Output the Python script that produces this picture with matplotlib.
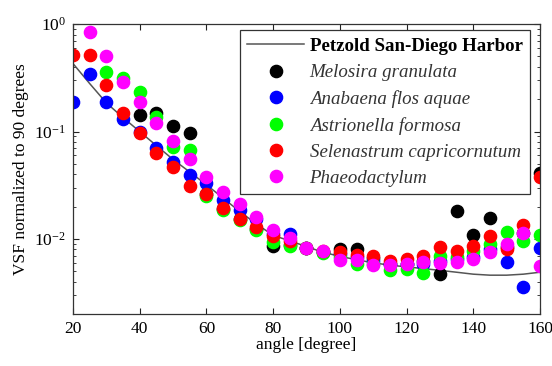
import numpy as np
import matplotlib
matplotlib.use("Agg")
import matplotlib.pyplot as plt
from matplotlib.ticker import FixedLocator, LogLocator, FuncFormatter, NullFormatter

plt.rcParams['font.family'] = ['Liberation Serif', 'DejaVu Serif']
plt.rcParams['mathtext.fontset'] = 'custom'
plt.rcParams['mathtext.rm'] = 'Liberation Serif'
plt.rcParams['mathtext.default'] = 'regular'

nan = np.nan
angles = list(range(20, 161, 5))

petzold = [0.43, 0.28, 0.185, 0.135, 0.10, 0.074, 0.055, 0.042, 0.032, 0.024,
           0.018, 0.0138, 0.0108, 0.0096, 0.0085, 0.0075, 0.0069, 0.0064, 0.0060,
           0.0057, 0.0055, 0.0053, 0.0051, 0.0049, 0.0047, 0.0046, 0.0046,
           0.0047, 0.0049]

melosira = [nan, nan, nan, nan, 0.144, 0.15, 0.113, 0.097, 0.026, 0.019,
            0.0152, 0.0125, 0.0086, 0.0088, 0.0082, 0.0076, 0.0081, 0.0081,
            0.0066, 0.0058, 0.0058, 0.0062, 0.0047, 0.0183, 0.011, 0.0158,
            0.0085, 0.0114, 0.041]
anabaena = [0.189, 0.34, 0.187, 0.13, 0.10, 0.070, 0.052, 0.039, 0.033, 0.023,
            0.0186, 0.0153, 0.0112, 0.0111, 0.0082, 0.0076, 0.0072, 0.0068,
            0.0062, 0.0058, 0.0058, 0.0058, 0.0063, 0.0065, 0.0068, 0.008,
            0.0061, 0.0036, 0.0082]
astrionella = [nan, nan, 0.355, 0.316, 0.234, 0.137, 0.072, 0.067, 0.025, 0.0186,
               0.015, 0.0121, 0.0094, 0.0086, 0.0082, 0.0074, 0.0068, 0.0059,
               0.0058, 0.0051, 0.0053, 0.0048, 0.0069, 0.0068, 0.0078, 0.009,
               0.0116, 0.0095, 0.0109]
selenastrum = [0.52, 0.515, 0.27, 0.15, 0.096, 0.0625, 0.047, 0.031, 0.0265, 0.0196,
               0.0155, 0.013, 0.0106, 0.0095, 0.0082, 0.0077, 0.0076, 0.0071,
               0.007, 0.0063, 0.0065, 0.007, 0.0085, 0.0078, 0.0086, 0.0106,
               0.008, 0.0136, 0.038]
phaeodactylum = [nan, 0.84, 0.50, 0.29, 0.187, 0.119, 0.081, 0.056, 0.038, 0.0275,
                 0.021, 0.016, 0.0121, 0.0101, 0.0083, 0.0078, 0.0064, 0.0064,
                 0.0057, 0.0057, 0.0058, 0.0061, 0.006, 0.0061, 0.0065, 0.0076,
                 0.009, 0.0114, 0.0056]

series = [
    ("Melosira granulata", melosira, "#000000"),
    ("Anabaena flos aquae", anabaena, "#0000ff"),
    ("Astrionella formosa", astrionella, "#00ff00"),
    ("Selenastrum capricornutum", selenastrum, "#ff0000"),
    ("Phaeodactylum", phaeodactylum, "#ff00ff"),
]

xticks = [20, 40, 60, 80, 100, 120, 140, 160]

fig = plt.figure(figsize=(5.52, 3.66), dpi=100)
ax = fig.add_axes([0.1322, 0.142, 0.846, 0.792])

ax.plot(angles, petzold, color="#555555", lw=1.1, label="Petzold San-Diego Harbor")
for name, vals, col in series:
    ax.plot(angles, vals, "o", ms=8.8, color=col, mec=col, label=name)

ax.set_yscale("log")
ax.set_xlim(20, 160)
ax.set_ylim(0.002, 1)
ax.xaxis.set_major_locator(FixedLocator(xticks))
ax.set_xticklabels([str(t) for t in xticks])
ax.yaxis.set_major_locator(LogLocator(base=10, numticks=5))
ax.yaxis.set_minor_locator(LogLocator(base=10, subs=np.arange(2, 10), numticks=20))
ax.yaxis.set_minor_formatter(NullFormatter())
ax.yaxis.set_major_formatter(FuncFormatter(
    lambda v, p: r"$10^{%d}$" % int(round(np.log10(v)))))

ax.tick_params(which="both", direction="in", top=True, right=True,
               labelsize=12.5, colors="#222222", labelcolor="black")
ax.tick_params(which="major", length=4, width=0.8, pad=5)
ax.tick_params(which="minor", length=2.2, width=0.6)
for s in ax.spines.values():
    s.set_color("#333333")
    s.set_linewidth(0.9)

ax.set_xlabel("angle [degree]", fontsize=12.5, labelpad=0)
ax.set_ylabel("VSF normalized to 90 degrees", fontsize=12.5, labelpad=4)

leg = ax.legend(loc="upper right", bbox_to_anchor=(0.979, 0.979), borderaxespad=0,
                fontsize=13.6, fancybox=False, framealpha=1, edgecolor="#333333",
                handlelength=3.0, handletextpad=0.3, labelspacing=0.47,
                borderpad=0.4)
leg.get_frame().set_linewidth(0.9)
texts = leg.get_texts()
texts[0].set_fontweight("bold")
for t in texts[1:]:
    t.set_fontstyle("italic")
    t.set_color("#333333")

fig.savefig("out.png", dpi=100)
